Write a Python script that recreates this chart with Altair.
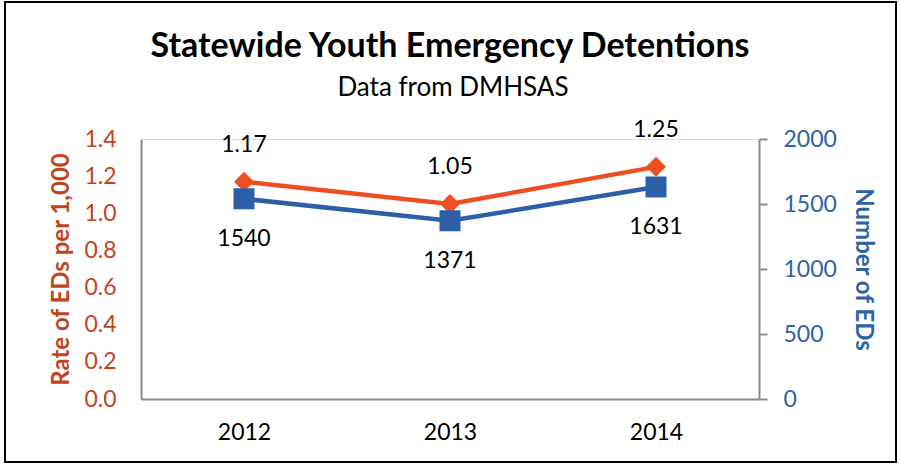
import altair as alt
import pandas as pd

years = ["2012", "2013", "2014"]
rate = [1.17, 1.05, 1.25]
counts = [1540, 1371, 1631]
title_text = "Statewide Youth Emergency Detentions"
subtitle_text = "Data from DMHSAS"

df = pd.DataFrame({"year": years, "rate": rate, "count": counts})

FONT = "Lato"
ORANGE_LINE = "#EE4E22"
ORANGE_TXT = "#C2441C"
BLUE_LINE = "#2C5FA6"
BLUE_TXT = "#2D63A8"
GRAY = "#8C8C8C"
FS = 23

xenc = alt.X("year:N", title=None,
             scale=alt.Scale(type="point", padding=0.5),
             axis=alt.Axis(labelAngle=0, labelFontSize=FS, labelFont=FONT, labelColor="#000000",
                           domainColor=GRAY, domainWidth=2, ticks=False, labelPadding=22))

base = alt.Chart(df)

yrate = alt.Y("rate:Q", title="Rate of EDs per 1,000",
              scale=alt.Scale(domain=[0, 1.4]),
              axis=alt.Axis(orient="left", values=[0, 0.2, 0.4, 0.6, 0.8, 1.0, 1.2, 1.4], format=".1f",
                            labelFontSize=FS, labelFont=FONT, labelColor=ORANGE_TXT,
                            titleFontSize=24, titleFont=FONT, titleColor=ORANGE_TXT, titleFontWeight="bold",
                            domainColor=GRAY, domainWidth=2, ticks=False, grid=False,
                            labelPadding=25, titlePadding=10))

rate_line = base.mark_line(color=ORANGE_LINE, strokeWidth=4.5).encode(x=xenc, y=yrate)
rate_pts = base.mark_point(shape="diamond", filled=True, color=ORANGE_LINE, size=400, opacity=1).encode(x=xenc, y=yrate)
rate_txt = base.mark_text(dy=-37, fontSize=FS, font=FONT, color="#000000").encode(
    x=xenc, y=yrate, text=alt.Text("rate:Q", format=".2f"))
rate_layer = alt.layer(rate_line, rate_pts, rate_txt)

ycount = alt.Y("count:Q", title="Number of EDs",
               scale=alt.Scale(domain=[0, 2000]),
               axis=alt.Axis(orient="right", values=[0, 500, 1000, 1500, 2000], format="d",
                             labelFontSize=FS, labelFont=FONT, labelColor=BLUE_TXT,
                             titleFontSize=24, titleFont=FONT, titleColor=BLUE_TXT, titleFontWeight="bold",
                             domainColor=GRAY, domainWidth=2, tickColor=GRAY, tickWidth=2, tickSize=8,
                             grid=False, labelPadding=16, titlePadding=14))

count_line = base.mark_line(color=BLUE_LINE, strokeWidth=4.5).encode(x=xenc, y=ycount)
count_pts = base.mark_square(color=BLUE_LINE, size=441, opacity=1).encode(x=xenc, y=ycount)
count_txt = base.mark_text(dy=40, fontSize=FS, font=FONT, color="#000000").encode(
    x=xenc, y=ycount, text=alt.Text("count:Q", format="d"))
count_layer = alt.layer(count_line, count_pts, count_txt)

one = pd.DataFrame({"t": [title_text], "s": [subtitle_text]})
frame = alt.Chart(one).mark_rect(fill=None, stroke="#000000", strokeWidth=2).encode(
    x=alt.value(-136), x2=alt.value(755), y=alt.value(-137), y2=alt.value(323))
title_mark = alt.Chart(one).mark_text(font=FONT, fontSize=34, fontWeight="bold", color="#000000",
                                      baseline="middle", align="center").encode(
    x=alt.value(309), y=alt.value(-92), text="t:N")
subtitle_mark = alt.Chart(one).mark_text(font=FONT, fontSize=26, color="#000000",
                                         baseline="middle", align="center").encode(
    x=alt.value(312), y=alt.value(-51), text="s:N")

chart = alt.layer(rate_layer, count_layer, frame, title_mark, subtitle_mark).resolve_scale(y="independent").properties(
    width=618, height=260,
    autosize=alt.AutoSizeParams(type="none"),
    padding={"left": 141, "top": 139, "right": 141, "bottom": 65},
).configure_view(stroke=None).configure(background="#FFFFFF")

chart.save("out.html", embed_options={"renderer": "svg", "actions": False})
